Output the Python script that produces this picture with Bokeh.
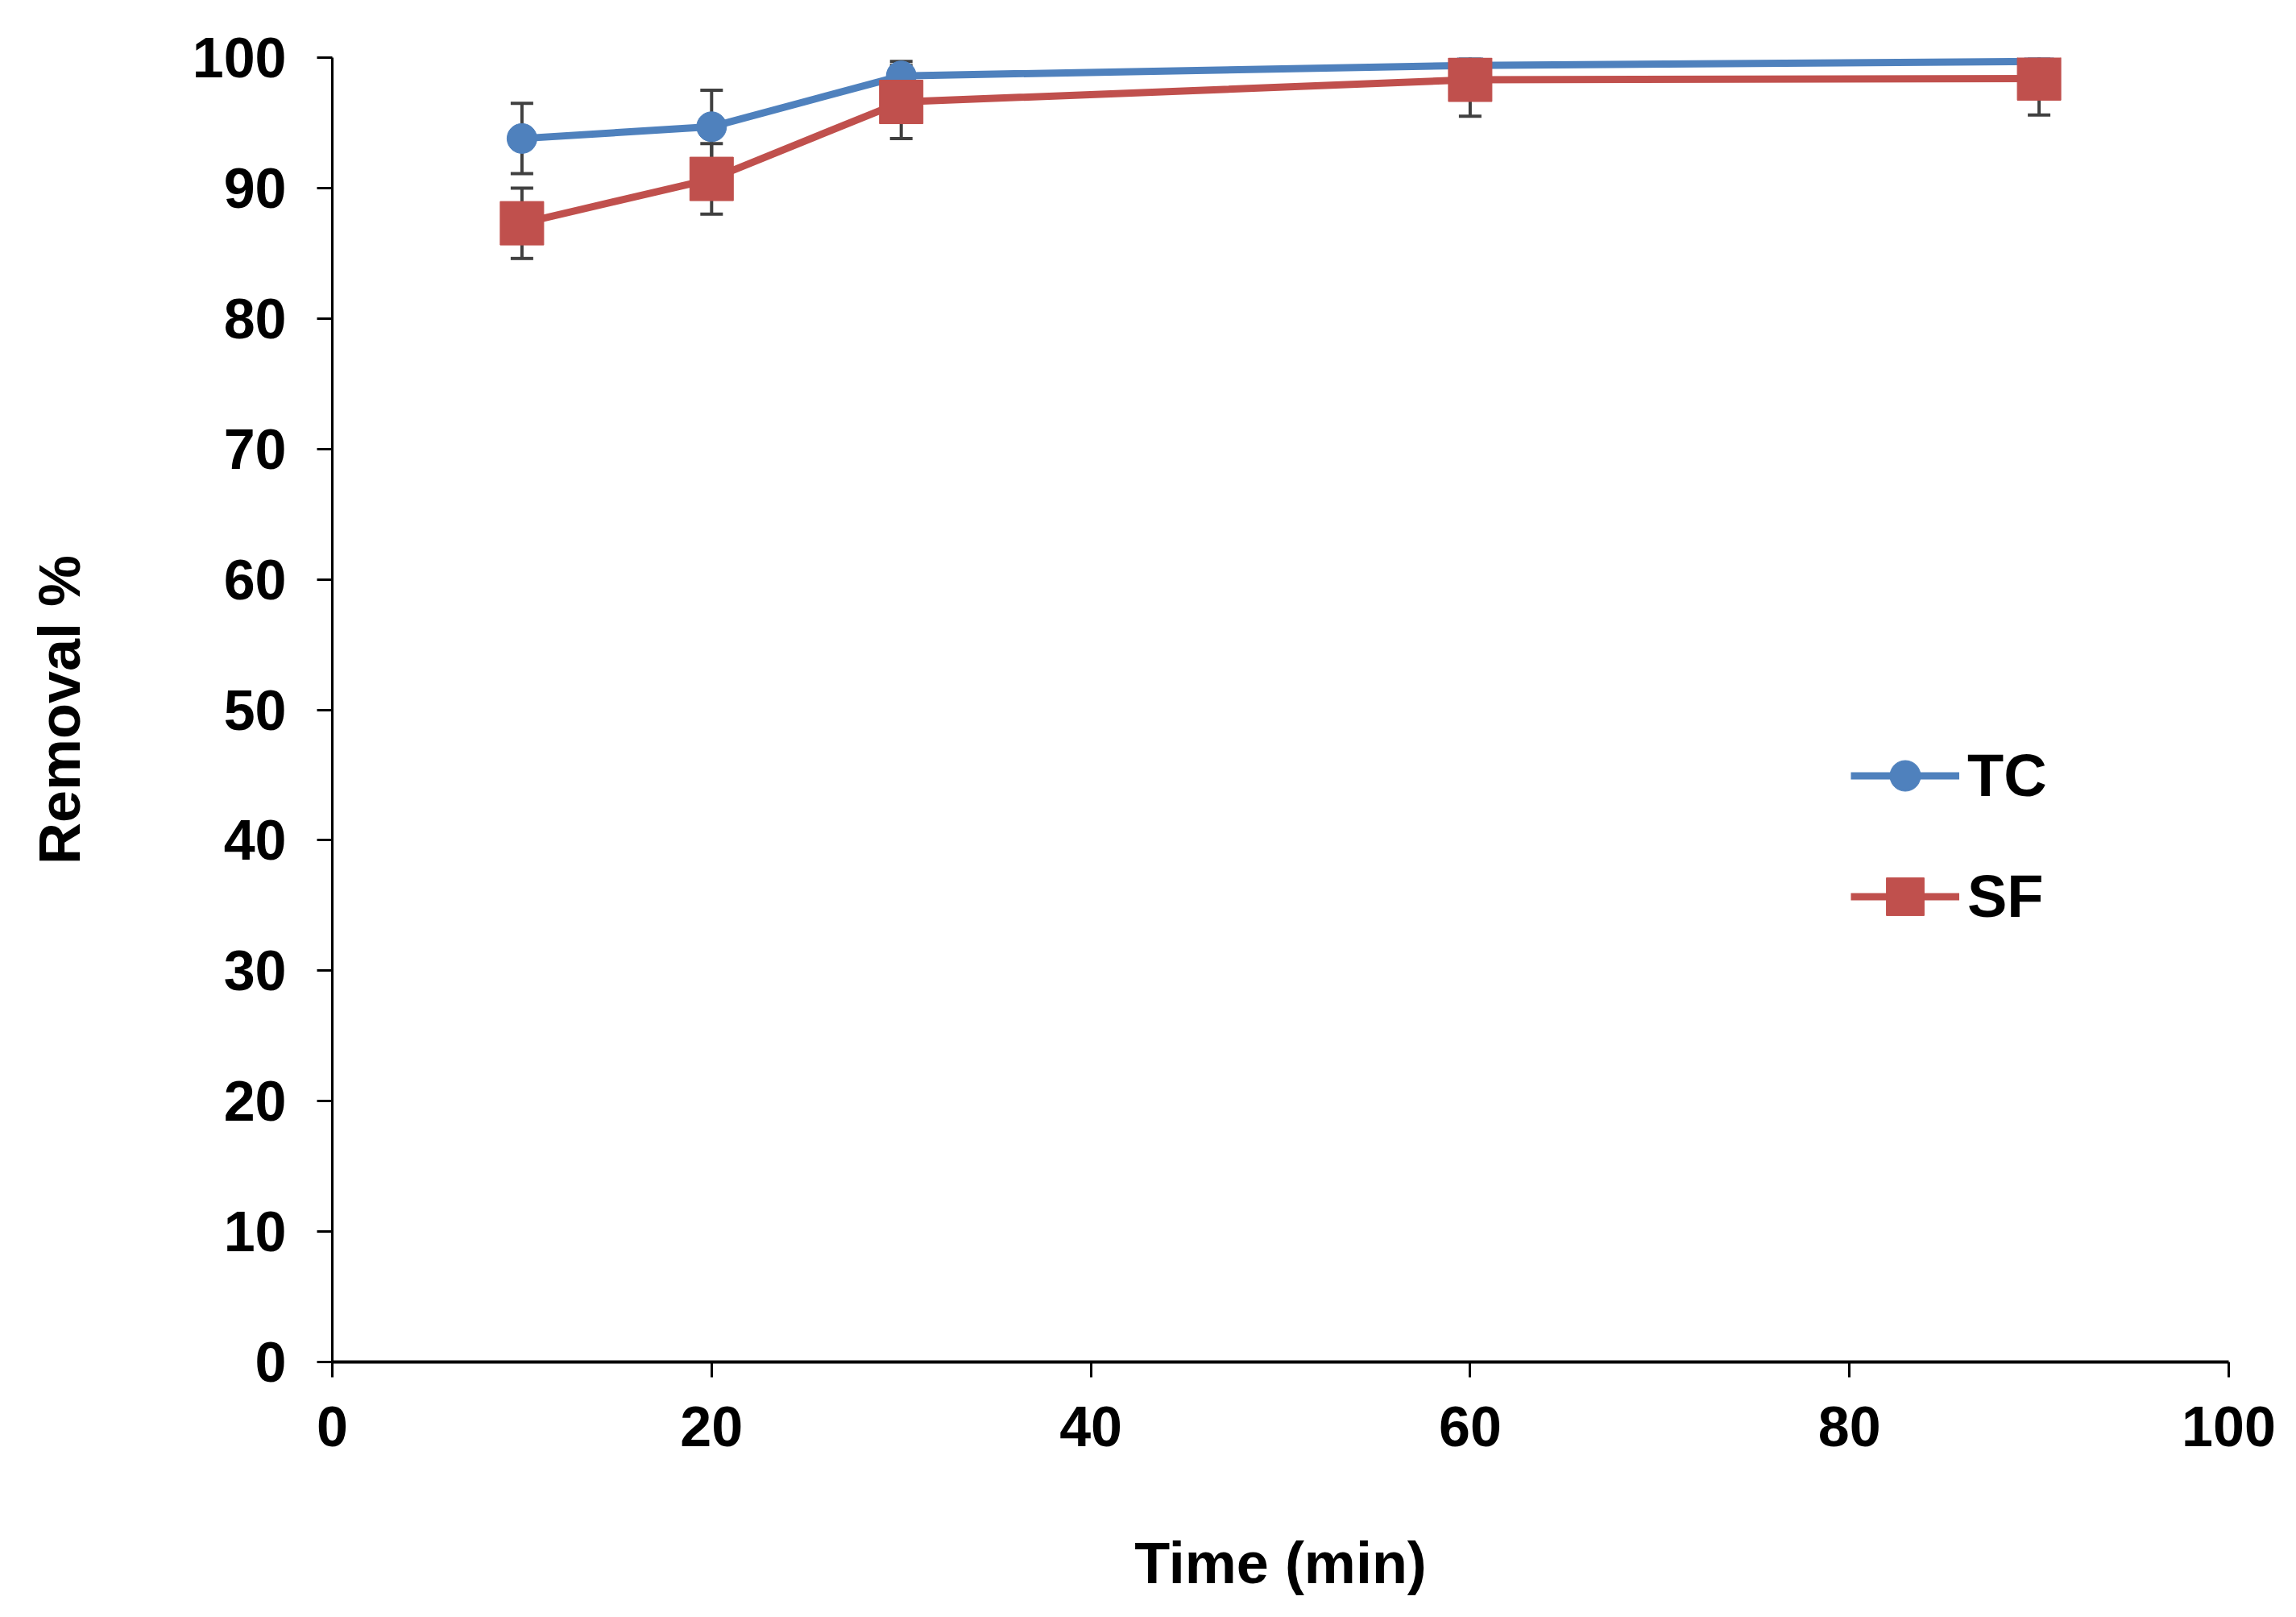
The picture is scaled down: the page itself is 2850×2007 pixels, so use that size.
from bokeh.plotting import figure
from bokeh.models import ColumnDataSource, Whisker, TeeHead, Legend, LegendItem, FixedTicker, Range1d
from bokeh.embed import file_html
from bokeh.resources import INLINE

# ---- data ----
time_min = [10, 20, 30, 60, 90]
tc_removal = [93.8, 94.7, 98.6, 99.4, 99.7]
tc_err = [2.7, 2.8, 1.1, 0.5, 0.3]
sf_removal = [87.3, 90.7, 96.6, 98.3, 98.4]
sf_err = [2.7, 2.7, 2.8, 2.8, 2.8]
x_ticks = [0, 20, 40, 60, 80, 100]
y_ticks = [0, 10, 20, 30, 40, 50, 60, 70, 80, 90, 100]

FONT = "'Liberation Sans', Arial, sans-serif"
BLUE = "#4F81BD"
RED = "#C0504D"
ERR = "#404040"

tc_src = ColumnDataSource(dict(
    x=time_min, y=tc_removal,
    lo=[v - e for v, e in zip(tc_removal, tc_err)],
    hi=[v + e for v, e in zip(tc_removal, tc_err)]))
sf_src = ColumnDataSource(dict(
    x=time_min, y=sf_removal,
    lo=[v - e for v, e in zip(sf_removal, sf_err)],
    hi=[v + e for v, e in zip(sf_removal, sf_err)]))

p = figure(width=2834, height=1991, output_backend="svg", toolbar_location=None,
           x_range=Range1d(0, 100), y_range=Range1d(0, 100),
           min_border_left=412, min_border_right=68, min_border_top=71, min_border_bottom=301)
p.outline_line_color = None
p.grid.visible = False
p.background_fill_color = "white"
p.border_fill_color = "white"

for src in (tc_src, sf_src):
    w = Whisker(source=src, base="x", lower="lo", upper="hi", level="underlay",
                line_color=ERR, line_width=4,
                lower_head=TeeHead(size=28, line_color=ERR, line_width=4),
                upper_head=TeeHead(size=28, line_color=ERR, line_width=4))
    p.add_layout(w)

tc_line = p.line("x", "y", source=tc_src, line_color=BLUE, line_width=9)
tc_pts = p.scatter("x", "y", source=tc_src, marker="circle", size=37,
                   fill_color=BLUE, line_color=BLUE)
sf_line = p.line("x", "y", source=sf_src, line_color=RED, line_width=9)
sf_pts = p.scatter("x", "y", source=sf_src, marker="square", size=54,
                   fill_color=RED, line_color=RED)

# axes
p.xaxis.ticker = FixedTicker(ticks=x_ticks)
p.yaxis.ticker = FixedTicker(ticks=y_ticks)
for ax in (p.xaxis[0], p.yaxis[0]):
    ax.axis_line_color = "black"
    ax.major_tick_line_color = "black"
    ax.major_tick_line_width = 3
    ax.major_tick_in = 0
    ax.major_tick_out = 19
    ax.minor_tick_line_color = None
    ax.major_label_text_font = FONT
    ax.major_label_text_font_style = "bold"
    ax.major_label_text_font_size = "70px"
    ax.major_label_text_color = "black"
    ax.axis_label_text_font = FONT
    ax.axis_label_text_font_style = "bold"
    ax.axis_label_text_font_size = "72px"
    ax.axis_label_text_color = "black"
p.xaxis.axis_line_width = 4
p.yaxis.axis_line_width = 3
p.xaxis.major_label_standoff = 36
p.yaxis.major_label_standoff = 38
p.xaxis.axis_label = "Time (min)"
p.yaxis.axis_label = "Removal %"
p.xaxis.axis_label_standoff = 102
p.yaxis.axis_label_standoff = 122

common = dict(orientation="vertical", glyph_width=135, label_standoff=10,
              padding=0, margin=0, border_line_color=None, background_fill_alpha=0,
              label_text_font=FONT, label_text_font_style="bold",
              label_text_font_size="74px", label_text_color="black")
legend_tc = Legend(items=[LegendItem(label="TC", renderers=[tc_line, tc_pts])],
                   location=(1885, 680), glyph_height=95, **common)
legend_sf = Legend(items=[LegendItem(label="SF", renderers=[sf_line, sf_pts])],
                   location=(1885, 519), glyph_height=117, **common)
p.add_layout(legend_tc)
p.add_layout(legend_sf)

open("out.html", "w").write(file_html(p, INLINE))
